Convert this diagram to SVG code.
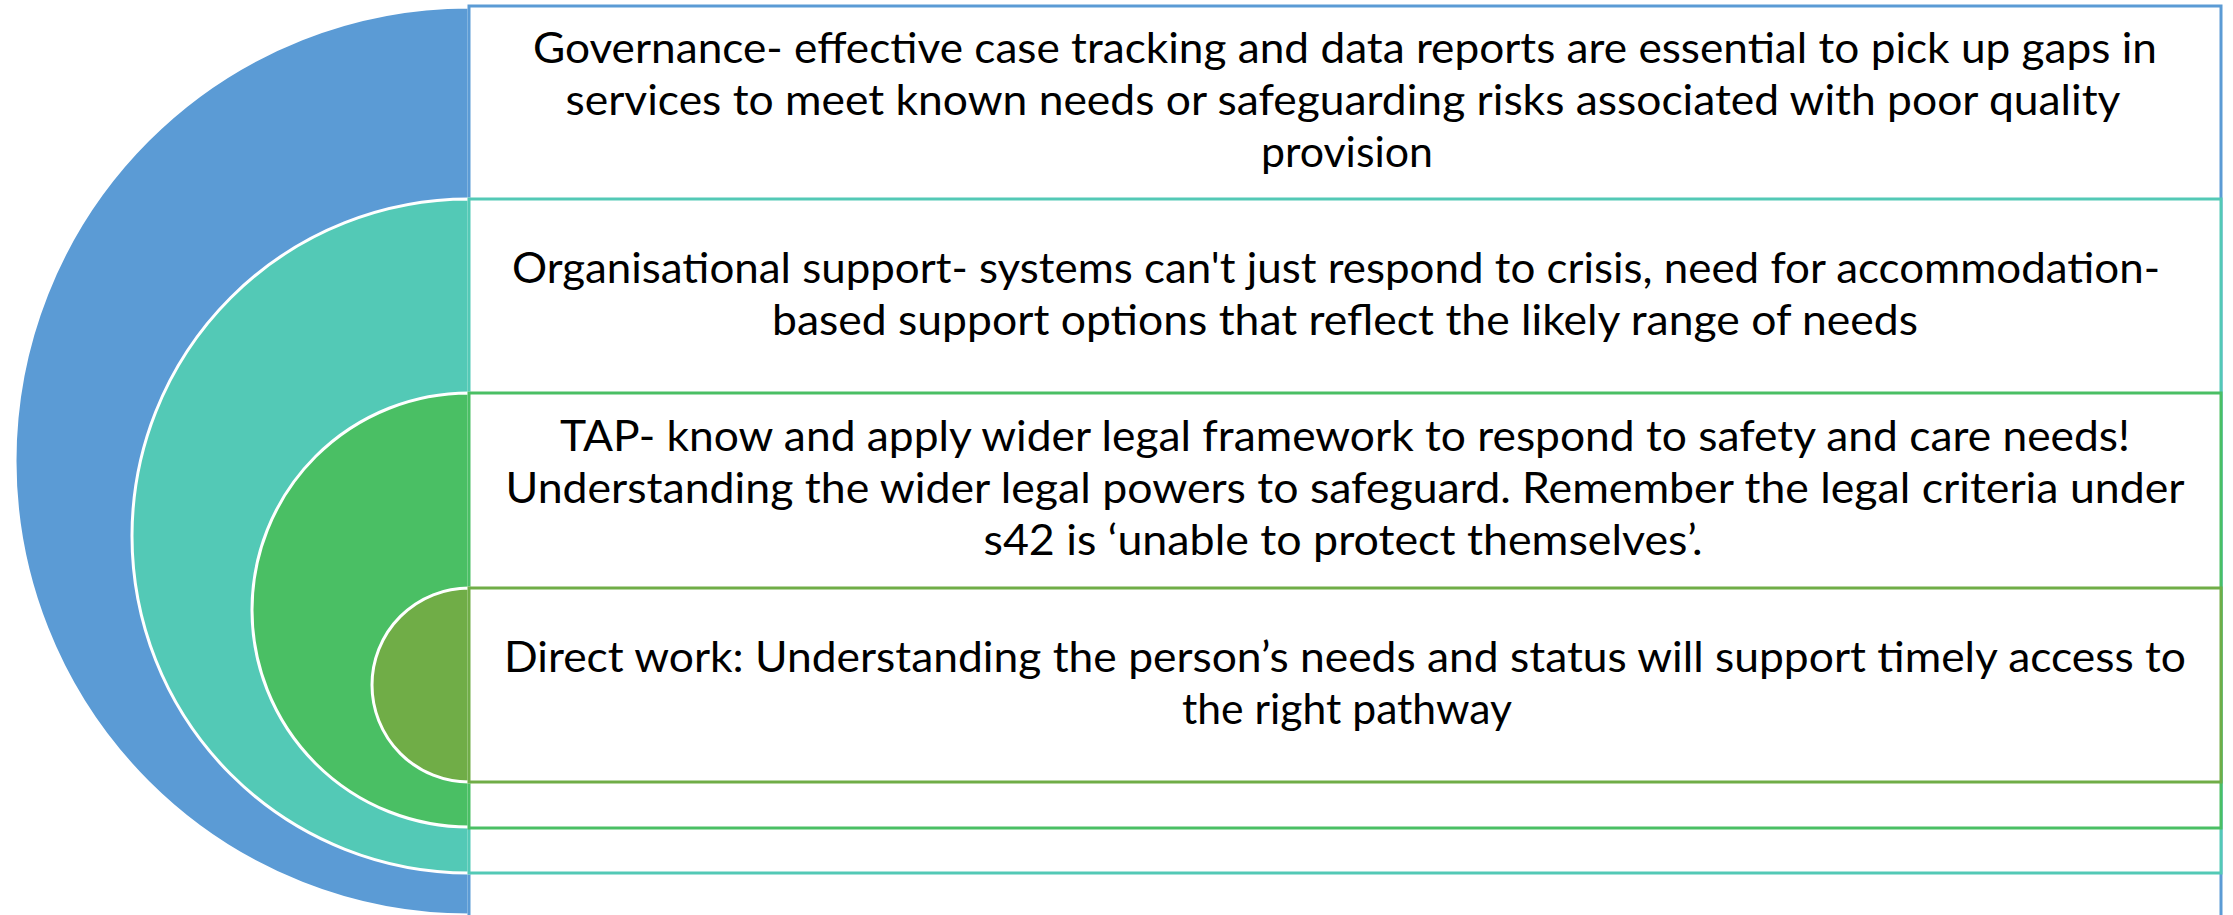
<svg xmlns="http://www.w3.org/2000/svg" width="2233" height="915" viewBox="0 0 2233 915">
  <style>
    .arc { stroke: #FFFFFF; stroke-width: 3; }
    .box { fill: #FFFFFF; stroke-width: 3; }
    .label { font-family: Lato, "Open Sans", "Liberation Sans", sans-serif; font-size: 43px; fill: #000000; text-anchor: middle; }
    .blue { fill: #5B9BD5; }
    .teal { fill: #53C9B6; }
    .green { fill: #4ABF64; }
    .olive { fill: #70AD47; }
  </style>
  <rect width="2233" height="915" fill="#FFFFFF"/>

  <!-- outer ring: governance -->
  <g id="governance">
    <path class="arc blue" d="M469,7 A454,454 0 0 0 469,915 Z" stroke="none"/>
    <rect class="box" x="469" y="6" width="1752" height="911" stroke="#5B9BD5"/>
    <text class="label" x="1345" y="63" textLength="1624" lengthAdjust="spacingAndGlyphs">Governance- effective case tracking and data reports are essential to pick up gaps in</text>
    <text class="label" x="1343" y="115" textLength="1555" lengthAdjust="spacingAndGlyphs">services to meet known needs or safeguarding risks associated with poor quality</text>
    <text class="label" x="1347" y="167" textLength="172" lengthAdjust="spacingAndGlyphs">provision</text>
  </g>

  <!-- second ring: organisational support -->
  <g id="organisational-support">
    <path class="arc teal" d="M469,199 A337,337 0 0 0 469,873 Z"/>
    <rect class="box" x="469" y="199" width="1752" height="674" stroke="#53C9B6"/>
    <text class="label" x="1336" y="283" textLength="1648" lengthAdjust="spacingAndGlyphs">Organisational support- systems can't just respond to crisis, need for accommodation-</text>
    <text class="label" x="1345" y="335" textLength="1146" lengthAdjust="spacingAndGlyphs">based support options that reflect the likely range of needs</text>
  </g>

  <!-- third ring: TAP -->
  <g id="tap">
    <path class="arc green" d="M469,393 A217,217 0 0 0 469,827 Z"/>
    <rect class="box" x="469" y="393" width="1752" height="435" stroke="#4ABF64"/>
    <text class="label" x="1345" y="451" textLength="1570" lengthAdjust="spacingAndGlyphs">TAP- know and apply wider legal framework to respond to safety and care needs!</text>
    <text class="label" x="1345" y="503" textLength="1679" lengthAdjust="spacingAndGlyphs">Understanding the wider legal powers to safeguard. Remember the legal criteria under</text>
    <text class="label" x="1343" y="555" textLength="719" lengthAdjust="spacingAndGlyphs">s42 is ‘unable to protect themselves’.</text>
  </g>

  <!-- core: direct work -->
  <g id="direct-work">
    <path class="arc olive" d="M469,588 A97,97 0 0 0 469,782 Z"/>
    <rect class="box" x="469" y="588" width="1752" height="194" stroke="#70AD47"/>
    <text class="label" x="1345" y="672" textLength="1682" lengthAdjust="spacingAndGlyphs">Direct work: Understanding the person’s needs and status will support timely access to</text>
    <text class="label" x="1347" y="724" textLength="330" lengthAdjust="spacingAndGlyphs">the right pathway</text>
  </g>
</svg>
